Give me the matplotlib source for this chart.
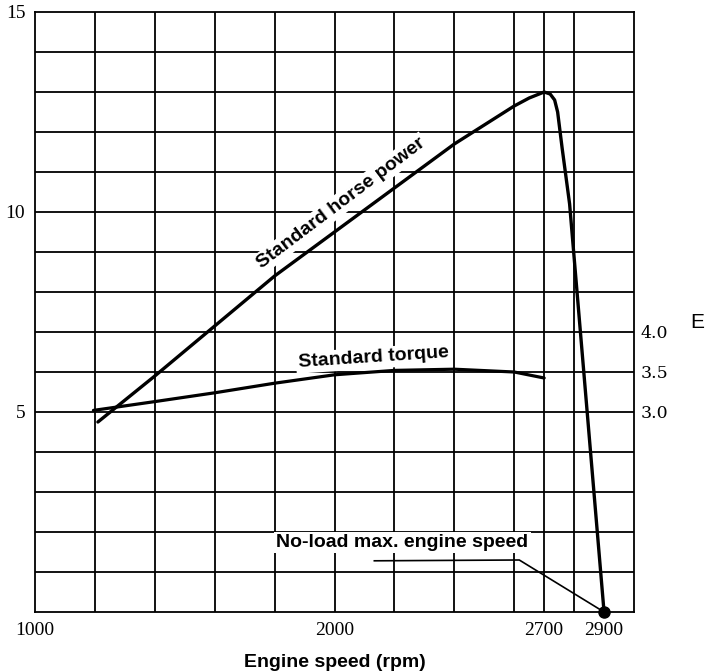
import matplotlib
matplotlib.use('Agg')
import matplotlib.pyplot as plt

# Data
rpm_hp = [1210, 1400, 1600, 1800, 2000, 2200, 2400, 2600, 2650, 2700, 2720, 2735, 2745, 2760, 2785, 2900]
horse_power = [4.75, 5.9, 7.15, 8.4, 9.5, 10.6, 11.7, 12.65, 12.85, 13.0, 12.95, 12.8, 12.5, 11.6, 10.2, 0.0]

rpm_tq = [1195, 1400, 1600, 1800, 2000, 2200, 2400, 2600, 2700]
torque = [3.02, 3.13, 3.24, 3.36, 3.465, 3.52, 3.535, 3.5, 3.425]

x_ticks = [1000, 2000, 2700, 2900]
y_ticks = [5, 10, 15]
torque_ticks = [3.0, 3.5, 4.0]

noload_rpm = 2900
leader_x = [2133, 2617, 2900]
leader_y = [1.28, 1.3, 0.0]

grid_x = [1200, 1400, 1600, 1800, 2000, 2200, 2400, 2600, 2700, 2800]
grid_y = list(range(1, 15))

bold = dict(family='Liberation Sans', weight='bold', size=14)


def to_torque(v):
    # left scale 5 -> 3.0, 7 -> 4.0
    return 3 + (v - 5) / 2


fig = plt.figure(figsize=(7.07, 6.72), dpi=100)
ax = fig.add_axes([35 / 707, 60 / 672, 599 / 707, 600 / 672])
ax.set_xlim(1000, 3000)
ax.set_ylim(0, 15)

# grid
ax.vlines(grid_x, 0, 15, color='black', lw=1.3, zorder=1)
ax.hlines(grid_y, 1000, 3000, color='black', lw=1.3, zorder=1)
for s in ax.spines.values():
    s.set_linewidth(1.3)

ax.set_xticks(x_ticks)
ax.set_xticklabels([str(v) for v in x_ticks], family='Liberation Serif', size=14)
ax.set_yticks(y_ticks)
ax.set_yticklabels([str(v) for v in y_ticks], family='Liberation Serif', size=14)
ax.tick_params(length=0, pad=7)
ax.set_xlabel('Engine speed (rpm)', labelpad=11, **bold)

# torque on right-hand scale
ax2 = ax.twinx()
ax2.set_ylim(to_torque(0), to_torque(15))
ax2.set_yticks(torque_ticks)
ax2.set_yticklabels(['%.1f' % v for v in torque_ticks], family='DejaVu Serif', size=12.5)
ax2.tick_params(length=0, pad=5)
for s in ax2.spines.values():
    s.set_visible(False)

ax2.plot(rpm_tq, torque, color='black', lw=2.3, zorder=5, solid_capstyle='round')

ax.plot(rpm_hp, horse_power, color='black', lw=2.4, zorder=5, solid_capstyle='round',
        solid_joinstyle='round')
ax2.plot(leader_x, [to_torque(v) for v in leader_y], color='black', lw=1.2, zorder=5)
ax2.plot([noload_rpm], [to_torque(0)], 'o', color='black', markersize=8, clip_on=False, zorder=6)

box = dict(facecolor='white', edgecolor='none', pad=1.5)
ax2.text(2022, to_torque(10.22), 'Standard horse power', rotation=37,
         ha='center', va='center', rotation_mode='anchor', bbox=box, zorder=4, **bold)
ax2.text(2130, to_torque(6.35), 'Standard torque', rotation=3.8,
         ha='center', va='center', rotation_mode='anchor', bbox=box, zorder=4, **bold)
ax2.text(2227, to_torque(1.73), 'No-load max. engine speed',
         ha='center', va='center', bbox=box, zorder=4, **bold)

fig.text(690 / 707, 1 - 323 / 672, 'E', family='Liberation Sans', size=15,
         ha='left', va='center')

fig.savefig('out.png', dpi=100)
